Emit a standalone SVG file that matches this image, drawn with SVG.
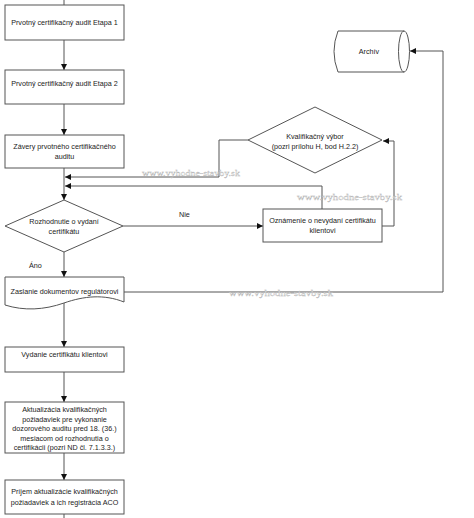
<svg xmlns="http://www.w3.org/2000/svg" width="474" height="518" viewBox="0 0 474 518">
<defs>
<marker id="ah" viewBox="0 0 10 10" refX="10" refY="5" markerWidth="6" markerHeight="6" markerUnits="userSpaceOnUse" orient="auto">
<path d="M0,0 L10,5 L0,10 Z" fill="#111"/>
</marker>
<style>
.s{fill:#fff;stroke:#555;stroke-width:1}
.c{fill:none;stroke:#555;stroke-width:1}
.a{marker-end:url(#ah)}
.t{font-family:"Liberation Sans",Arial,sans-serif;font-size:7.2px;fill:#222;text-anchor:middle}
.l{font-family:"Liberation Sans",Arial,sans-serif;font-size:7.2px;fill:#222}
.w{font-family:"Liberation Serif",serif;font-size:9px;fill:#fff;stroke:#aaa;stroke-width:0.3}
</style>
</defs>
<rect width="474" height="518" fill="#fff"/>
<g id="connectors">
<path class="c" d="M64,0 V5"/>
<path class="c a" d="M64,40 V70"/>
<path class="c a" d="M64,104 V135"/>
<path class="c a" d="M64,168 V200"/>
<path class="c a" d="M248,140 H219 V177 H65"/>
<path class="c a" d="M322,209 V186 H65"/>
<path class="c a" d="M123,226 H263"/>
<path class="c a" d="M382,226 H394 V141 H383"/>
<path class="c a" d="M64,252 V277"/>
<path class="c a" d="M124,292 H443 V51 H410"/>
<path class="c a" d="M64,300 V347"/>
<path class="c a" d="M64,372 V402"/>
<path class="c a" d="M64,453 V480"/>
<path class="c" d="M64,514 V518"/>
</g>
<g id="watermarks">
<text class="w" x="142" y="176" textLength="98" lengthAdjust="spacingAndGlyphs">www.vyhodne-stavby.sk</text>
<text class="w" x="297" y="200" textLength="105" lengthAdjust="spacingAndGlyphs">www.vyhodne-stavby.sk</text>
<text class="w" x="229" y="296" textLength="104" lengthAdjust="spacingAndGlyphs">www.vyhodne-stavby.sk</text>
</g>
<g id="n1"><rect class="s" x="5" y="5" width="119" height="35"/><text class="t" x="64.5" y="25">Prvotný certifikačný audit Etapa 1</text></g>
<g id="n2"><rect class="s" x="5" y="70" width="119" height="34"/><text class="t" x="64.5" y="86">Prvotný certifikačný audit Etapa 2</text></g>
<g id="n3"><rect class="s" x="5" y="135" width="119" height="33"/><text class="t" x="64.5" y="149">Závery prvotného certifikačného</text><text class="t" x="64.5" y="159">auditu</text></g>
<g id="n4"><path class="s" d="M64,200 L123,226 L64,252 L5,226 Z"/><text class="t" x="64" y="224">Rozhodnutie o vydaní</text><text class="t" x="64" y="234">certifikátu</text></g>
<g id="lbl-nie"><text class="l" x="179" y="217">Nie</text></g>
<g id="lbl-ano"><text class="l" x="29" y="268">Áno</text></g>
<g id="n5"><rect class="s" x="263" y="209" width="119" height="33"/><text class="t" x="322.5" y="223">Oznámenie o nevydaní certifikátu</text><text class="t" x="322.5" y="233">klientovi</text></g>
<g id="n6"><path class="s" d="M248,140 L315,107 L382,140 L315,173 Z"/><text class="t" x="315" y="139">Kvalifikačný výbor</text><text class="t" x="315" y="149">(pozri prílohu H, bod H.2.2)</text></g>
<g id="n7"><path class="s" d="M338,31 H404 A5.5,20.5 0 0 1 404,72 H338 Q330,51.5 338,31 Z"/><path class="c" d="M404,31 A5.5,20.5 0 0 0 404,72"/><text class="t" x="369" y="54">Archív</text></g>
<g id="n8"><path class="s" d="M5,277 H124 V302 C104,294 84,296 64,303 C44,310 24,311 5,305 Z"/><text class="t" x="64.5" y="294">Zaslanie dokumentov regulátorovi</text></g>
<g id="n9"><rect class="s" x="5" y="347" width="119" height="25"/><text class="t" x="64.5" y="357">Vydanie certifikátu klientovi</text></g>
<g id="n10"><rect class="s" x="5" y="402" width="119" height="51"/>
<text class="t" x="64.5" y="412">Aktualizácia kvalifikačných</text>
<text class="t" x="64.5" y="421.5">požiadaviek pre vykonanie</text>
<text class="t" x="64.5" y="431">dozorového auditu pred 18. (36.)</text>
<text class="t" x="64.5" y="440.5">mesiacom od rozhodnutia o</text>
<text class="t" x="64.5" y="450">certifikácii (pozri ND čl. 7.1.3.3.)</text></g>
<g id="n11"><rect class="s" x="5" y="480" width="119" height="34"/><text class="t" x="64.5" y="494">Príjem aktualizácie kvalifikačných</text><text class="t" x="64.5" y="505">požiadaviek  a ich registrácia ACO</text></g>
</svg>
